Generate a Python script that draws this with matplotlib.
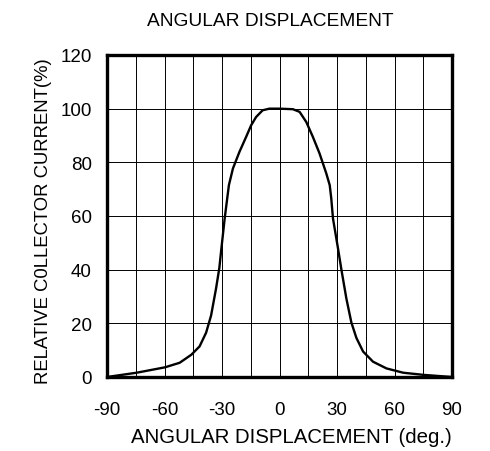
import matplotlib
matplotlib.use("Agg")
import matplotlib.pyplot as plt
import numpy as np

angle = [-90, -74.5, -59.8, -52.1, -46, -41.7, -38.3, -35.7, -33.1, -31.4, -30.3, -28.6,
         -26.4, -24.3, -20.9, -17.4, -14.8, -12.2, -8.8, -5.3, 0, 7, 10.5, 14, 17.4,
         20.9, 24.4, 26.2, 27, 27.9, 30.5, 32.3, 34.9, 37.5, 40.1, 43.6, 48.8, 55.8,
         64.5, 75, 90]
current = [0, 1.6, 3.6, 5.3, 8.3, 11.4, 16.5, 22.9, 33, 40.6, 48, 59.1,
           71.5, 77.7, 83.9, 89.5, 93.8, 96.9, 99.4, 100, 100, 99.8, 98.8, 95, 89.5,
           83.3, 75.9, 71.5, 66.6, 59.1, 48, 40, 29.2, 20.3, 14.6, 9.5, 5.7, 3.2,
           1.6, 0.8, 0]
xticks = [-90, -60, -30, 0, 30, 60, 90]
yticks = [0, 20, 40, 60, 80, 100, 120]

plt.rcParams['font.family'] = ['Liberation Sans', 'DejaVu Sans']

W, H = 490, 452
fig = plt.figure(figsize=(W/100, H/100), dpi=100)
ax = fig.add_axes([107/W, 1-378/H, 345/W, 322/H])

ax.plot(angle, current, color='black', lw=1.7, zorder=3,
        solid_joinstyle='round', solid_capstyle='round')

ax.set_xlim(-90, 90)
ax.set_ylim(0, 120)
ax.set_xticks(xticks)
ax.set_xticklabels([str(t) for t in xticks])
ax.set_yticks(yticks)
ax.set_xticks(np.arange(-90, 91, 15), minor=True)
ax.grid(True, which='both', axis='x', color='black', lw=0.7)
ax.grid(True, which='major', axis='y', color='black', lw=0.7)
ax.tick_params(which='both', length=0, labelsize=13.5)
ax.tick_params(axis='x', pad=17)
ax.tick_params(axis='y', pad=11)
for s in ax.spines.values():
    s.set_linewidth(2.4)
    s.set_zorder(4)

fig.text(270/W, 1-22/H, 'ANGULAR DISPLACEMENT', fontsize=13.8, ha='center', va='center')
fig.text(291/W, 1-438/H, 'ANGULAR DISPLACEMENT (deg.)', fontsize=14.7, ha='center', va='center')
fig.text(43/W, 1-221/H, 'RELATIVE C0LLECTOR CURRENT(%)', fontsize=13.3, ha='center',
         va='center', rotation=90)

fig.savefig('out.png', dpi=100)
